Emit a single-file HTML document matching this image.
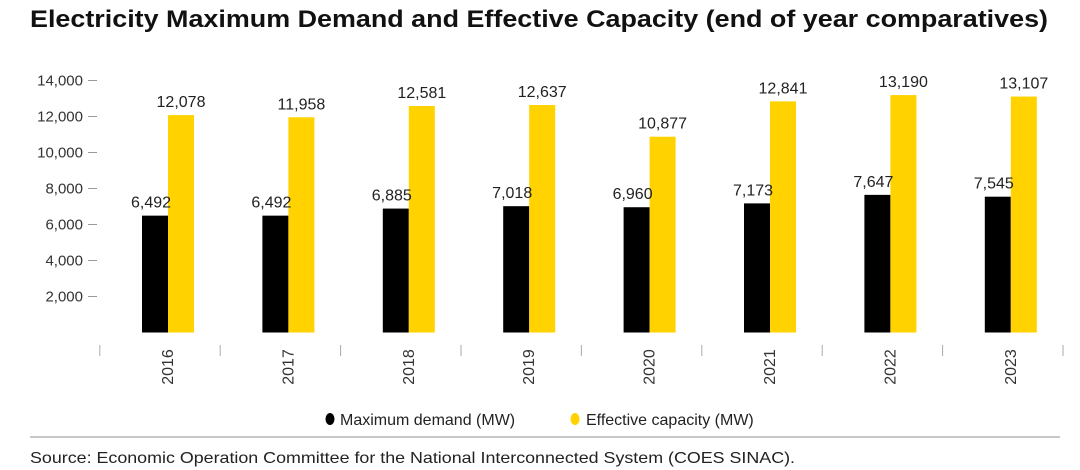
<!DOCTYPE html>
<html><head><meta charset="utf-8"><style>
body{margin:0;background:#fff;}
svg{display:block;font-family:"Liberation Sans",sans-serif;}
</style></head><body>
<svg width="1080" height="470" viewBox="0 0 1080 470">
<text x="30" y="27" font-size="24" font-weight="bold" fill="#111" textLength="1018" lengthAdjust="spacingAndGlyphs">Electricity Maximum Demand and Effective Capacity (end of year comparatives)</text>
<g id="yaxis"></g>
<g id="bars"></g>
<g id="xaxis"></g>
<g>
<g><ellipse cx="330" cy="419" rx="4.5" ry="6" fill="#000"/><text x="340" y="425" font-size="16" fill="#222">Maximum demand (MW)</text></g>
<g><ellipse cx="575" cy="419" rx="4.5" ry="6" fill="#ffd200"/><text x="586" y="425" font-size="16" fill="#222">Effective capacity (MW)</text></g>
</g>
<line x1="30" y1="437" x2="1060" y2="437" stroke="#c8c8c8" stroke-width="2"/>
<text x="30" y="463" font-size="16" fill="#222" textLength="765" lengthAdjust="spacingAndGlyphs">Source: Economic Operation Committee for the National Interconnected System (COES SINAC).</text>
</svg>
<script>
const years=["2016","2017","2018","2019","2020","2021","2022","2023"];
const maxDemand=[6492,6492,6885,7018,6960,7173,7647,7545];
const effCapacity=[12078,11958,12581,12637,10877,12841,13190,13107];
const yTicks=[2000,4000,6000,8000,10000,12000,14000];
const NS="http://www.w3.org/2000/svg";
const y0=332.5, yScale=(296-80)/12000;
const y=v=>y0-v*yScale;
const step=120.4, x0=168;
const cx=i=>x0+i*step;
const fmt=v=>v.toLocaleString("en-US");
function mk(tag,attrs,parent,txt){const e=document.createElementNS(NS,tag);for(const k in attrs)e.setAttribute(k,attrs[k]);if(txt!==undefined)e.textContent=txt;parent.appendChild(e);return e;}
const ya=document.getElementById("yaxis"),ba=document.getElementById("bars"),xa=document.getElementById("xaxis");
yTicks.forEach(t=>{
 const l=mk("line",{x1:88,x2:97,y1:y(t),y2:y(t),stroke:"#999","stroke-width":1},ya);
 
 
 const tx=mk("text",{x:83,y:y(t)+5,"font-size":15,fill:"#333","text-anchor":"end"},ya,fmt(t));
 
 
});
const bw=26;
years.forEach((yr,i)=>{
 const c=cx(i);
 const b1=mk("rect",{x:c-bw,y:y(maxDemand[i]),width:bw,height:y0-y(maxDemand[i]),fill:"#000"},ba);
 
 
 const b2=mk("rect",{x:c,y:y(effCapacity[i]),width:bw,height:y0-y(effCapacity[i]),fill:"#ffd200"},ba);
 
 
 const l1=mk("text",{x:c-bw/2-4,y:y(maxDemand[i])-8,"font-size":16,fill:"#222","text-anchor":"middle"},ba,fmt(maxDemand[i]));
 
 
 const l2=mk("text",{x:c+bw/2,y:y(effCapacity[i])-8,"font-size":16,fill:"#222","text-anchor":"middle"},ba,fmt(effCapacity[i]));
 
 
 const xl=mk("text",{transform:`translate(${c+5},367) rotate(-90)`,"font-size":16,fill:"#333","text-anchor":"middle"},xa,yr);
 
 
});
for(let i=0;i<=years.length;i++){
 const sx=cx(i)-step/2-8;
 const s=mk("line",{x1:sx,x2:sx,y1:345,y2:356,stroke:"#aaa","stroke-width":1},xa);
 
 
}
</script>
</body></html>
